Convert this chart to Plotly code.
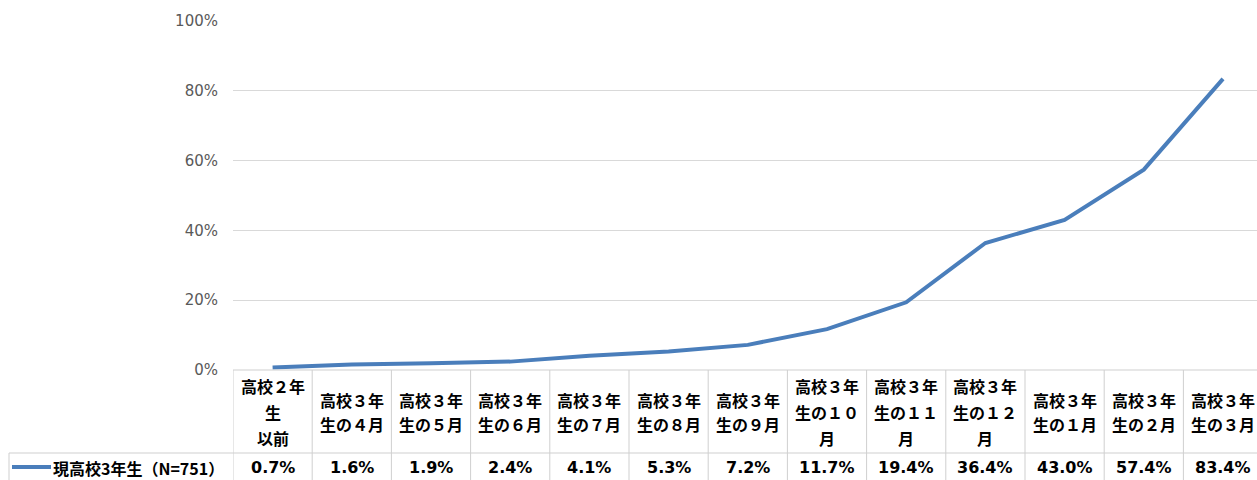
import plotly.graph_objects as go

# ---------------- data ----------------
categories = [
    "高校２年|生|以前",
    "高校３年|生の４月",
    "高校３年|生の５月",
    "高校３年|生の６月",
    "高校３年|生の７月",
    "高校３年|生の８月",
    "高校３年|生の９月",
    "高校３年|生の１０|月",
    "高校３年|生の１１|月",
    "高校３年|生の１２|月",
    "高校３年|生の１月",
    "高校３年|生の２月",
    "高校３年|生の３月",
]
series_name = "現高校3年生（N=751）"
values = [0.7, 1.6, 1.9, 2.4, 4.1, 5.3, 7.2, 11.7, 19.4, 36.4, 43.0, 57.4, 83.4]
y_tick_values = [0, 20, 40, 60, 80, 100]
y_tick_labels = ["0%", "20%", "40%", "60%", "80%", "100%"]

# ---------------- layout helpers ----------------
W, H = 1257, 480
L, T, B = 233, 21, 110
PW, PH = W - L, H - T - B
COLW = 79.2  # pixel width of one category column


def px_x(px):
    return (px - L) / PW


def px_y(py):
    return (T + PH - py) / PH


LINE_COLOR = "#4A7EBB"
GRID = "#d9d9d9"
BORDER = "#cfcfcf"
JP = "Noto Sans CJK JP"
LAT = "DejaVu Sans"

n = len(categories)
xs = list(range(n))

fig = go.Figure()
fig.add_trace(go.Scatter(
    x=xs, y=values, mode="lines",
    line=dict(color=LINE_COLOR, width=4),
    name=series_name, hoverinfo="skip", showlegend=False,
))

x_hi = -0.5 + PW / COLW

shapes = []
annotations = []

# table: top border (at 0%) and header bottom
shapes.append(dict(type="line", xref="paper", yref="paper", x0=0, x1=1,
                   y0=0, y1=0, line=dict(color=BORDER, width=1)))
shapes.append(dict(type="line", xref="paper", yref="paper", x0=px_x(9), x1=1,
                   y0=px_y(453), y1=px_y(453), line=dict(color=BORDER, width=1)))
# legend cell left border
shapes.append(dict(type="line", xref="paper", yref="paper", x0=px_x(9), x1=px_x(9),
                   y0=px_y(453), y1=px_y(485), line=dict(color=BORDER, width=1)))
# column borders
for i in range(n + 1):
    shapes.append(dict(type="line", xref="x", yref="paper", x0=i - 0.5, x1=i - 0.5,
                       y0=0, y1=px_y(485), line=dict(color=BORDER, width=1)))

# header labels
for i, cat in enumerate(categories):
    lines = cat.split("|")
    if len(lines) == 3:
        ys = [386, 412, 438]
    else:
        ys = [400, 424]
    for ln, py in zip(lines, ys):
        annotations.append(dict(
            x=i, y=px_y(py), xref="x", yref="paper", text="<b>%s</b>" % ln,
            showarrow=False, xanchor="center", yanchor="middle",
            font=dict(family=JP, size=16, color="#000000"),
        ))

# value row
for i, v in enumerate(values):
    annotations.append(dict(
        x=i, y=px_y(468), xref="x", yref="paper", text="<b>%.1f%%</b>" % v,
        showarrow=False, xanchor="center", yanchor="middle",
        font=dict(family=LAT, size=16, color="#000000"),
    ))

# legend key + series name
shapes.append(dict(type="line", xref="paper", yref="paper", x0=px_x(12), x1=px_x(51),
                   y0=px_y(467), y1=px_y(467), line=dict(color=LINE_COLOR, width=4)))
annotations.append(dict(
    x=px_x(51), y=px_y(468), xref="paper", yref="paper", text="<b>%s</b>" % series_name,
    showarrow=False, xanchor="left", yanchor="middle",
    font=dict(family=JP, size=16, color="#000000"),
))

fig.update_layout(
    width=W, height=H,
    margin=dict(l=L, r=0, t=T, b=B, pad=0),
    paper_bgcolor="white", plot_bgcolor="white",
    showlegend=False,
    shapes=shapes, annotations=annotations,
    xaxis=dict(range=[-0.5, x_hi], showgrid=False, zeroline=False,
               showticklabels=False, ticks="", showline=False, fixedrange=True),
    yaxis=dict(range=[0, 100], tickvals=y_tick_values, ticktext=y_tick_labels,
               showgrid=True, gridcolor=GRID, gridwidth=1, zeroline=False,
               showline=False, ticks="", ticklabelstandoff=14,
               tickfont=dict(family=LAT, size=15, color="#595959"), fixedrange=True),
)

fig.write_html(
    "out.html",
    config={"displayModeBar": False},
    post_script="document.body.style.margin='0';document.body.style.overflow='hidden';",
)
